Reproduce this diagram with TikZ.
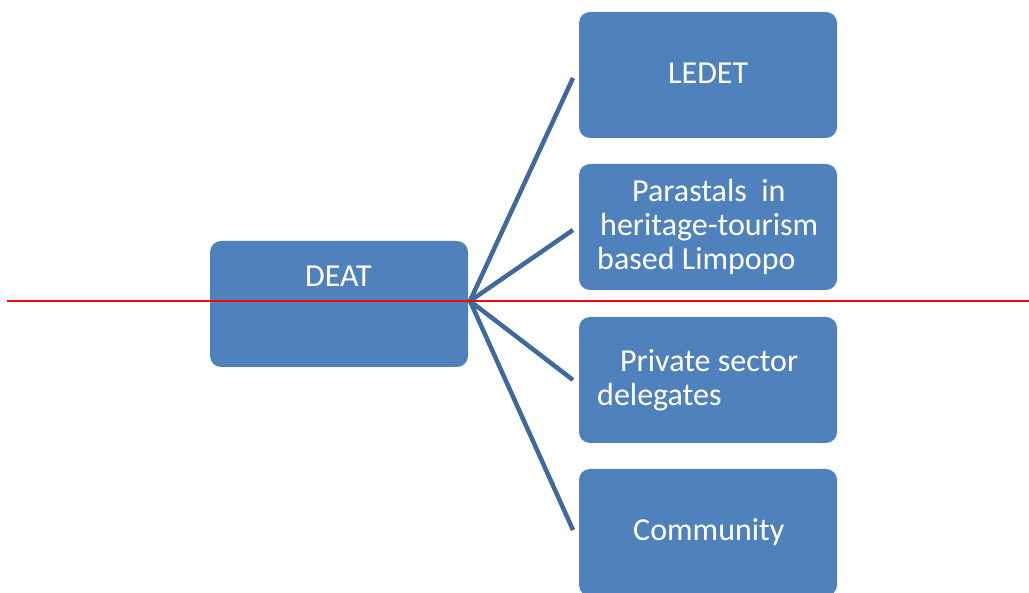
\documentclass[tikz,border=0pt]{standalone}
\usepackage{fontspec}
\setmainfont{Carlito}
\definecolor{boxblue}{HTML}{4F81BD}
\definecolor{linkblue}{HTML}{40699C}
\definecolor{redline}{HTML}{FF0000}
\begin{document}
\begin{tikzpicture}[x=1pt,y=-1pt,
  box/.style={fill=boxblue,draw=none,rounded corners=11pt},
  txt/.style={text=white,font=\fontsize{32}{36}\selectfont,inner sep=0pt,anchor=base west},
  link/.style={draw=linkblue,line width=4.5pt}]
\useasboundingbox (0,0) rectangle (1029,593);
\clip (0,0) rectangle (1029,593);
% boxes
\path[box] (210,241) rectangle (468,367);
\path[box] (579,12) rectangle (837,138);
\path[box] (579,164) rectangle (837,290);
\path[box] (579,317) rectangle (837,443);
\path[box] (579,469) rectangle (837,596);
\node[inner sep=0pt,minimum width=258pt,minimum height=126pt] (deat) at (339,304) {};
\node[inner sep=0pt,minimum width=258pt,minimum height=126pt] (ledet) at (708,75) {};
\node[inner sep=0pt,minimum width=258pt,minimum height=126pt] (para) at (708,227) {};
\node[inner sep=0pt,minimum width=258pt,minimum height=126pt] (priv) at (708,380) {};
\node[inner sep=0pt,minimum width=258pt,minimum height=126pt] (comm) at (708,532) {};
% texts
\node[txt] (tdeat) at (305,287) {DEAT};
\node[txt] (tledet) at (668,84) {LEDET};
\node[txt] (tp1) at (632,202) {Parastals\ \ in};
\node[txt] (tp2) at (600,236) {heritage-tourism};
\node[txt] (tp3) at (597,270) {based Limpopo};
\node[txt] (tq1) at (620,372) {Private sector};
\node[txt] (tq2) at (597,406) {delegates};
\node[txt] (tcomm) at (633,540) {Community};
% connectors
\coordinate (hub) at (470,301);
\coordinate (e1) at (573,78);
\coordinate (e2) at (573,230);
\coordinate (e3) at (573,380);
\coordinate (e4) at (573,530);
\draw[link] (hub) -- (e1);
\draw[link] (hub) -- (e2);
\draw[link] (hub) -- (e3);
\draw[link] (hub) -- (e4);
% red line
\coordinate (r0) at (7,301);
\coordinate (r1) at (1029,301);
\draw[redline,line width=2pt] (r0) -- (r1);
\end{tikzpicture}
\end{document}
